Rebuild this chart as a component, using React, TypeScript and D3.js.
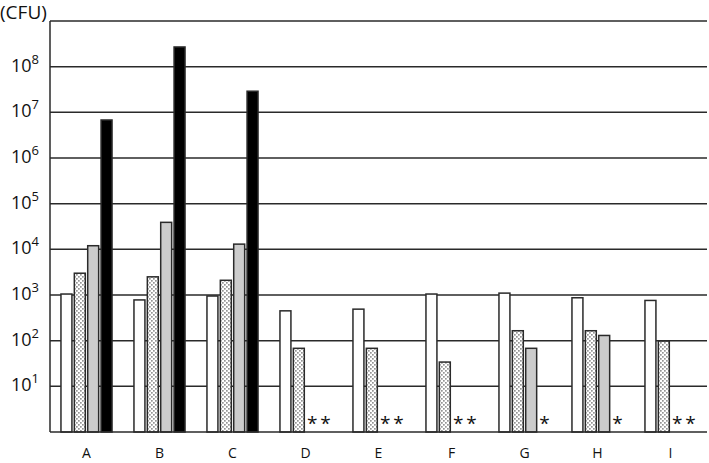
import { scaleBand, scaleLog } from "d3";
import type { FC } from "react";

const categories = ["A", "B", "C", "D", "E", "F", "G", "H", "I"];
const seriesNames = ["white", "dotted", "gray", "black"];
// null = not detected (drawn as *)
const whiteValues = [1050, 780, 950, 450, 490, 1050, 1100, 870, 760];
const dottedValues = [3000, 2500, 2100, 68, 68, 34, 165, 165, 98];
const grayValues: (number | null)[] = [12000, 39000, 13000, null, null, null, 68, 130, null];
const blackValues: (number | null)[] = [6.8e6, 2.7e8, 2.9e7, null, null, null, null, null, null];
const yTickExponents = [1, 2, 3, 4, 5, 6, 7, 8];

const seriesValues = [whiteValues, dottedValues, grayValues, blackValues];

const width = 709;
const height = 463;
const margin = { top: 21, right: 2, bottom: 31, left: 50 };
const font = "'Open Sans', 'Noto Sans', sans-serif";

const App: FC = () => {
  const yScale = scaleLog()
    .domain([1, 1e9])
    .range([height - margin.bottom, margin.top]);
  const xScale = scaleBand<string>()
    .domain(categories)
    .range([margin.left, width - margin.right])
    .padding(0);
  const innerScale = scaleBand<string>()
    .domain(seriesNames)
    .range([0, xScale.bandwidth()])
    .paddingInner(0.18)
    .paddingOuter(0.82);

  const fills: Record<string, string> = {
    white: "#ffffff",
    dotted: "url(#dots)",
    gray: "#cccccc",
    black: "#000000",
  };
  const baseY = yScale(1);

  return (
    <svg
      width={width}
      height={height}
      style={{ position: "absolute", left: 0, top: 0, background: "#fff" }}
    >
      <defs>
        <pattern id="dots" width={4} height={4} patternUnits="userSpaceOnUse">
          <rect width={4} height={4} fill="#ffffff" />
          <rect x={0} y={0} width={1.7} height={1.7} fill="#959595" />
          <rect x={2} y={2} width={1.7} height={1.7} fill="#959595" />
        </pattern>
      </defs>

      {/* gridlines incl. top line */}
      {[...yTickExponents, 9].map((e) => (
        <line
          key={e}
          x1={margin.left}
          x2={width - margin.right}
          y1={yScale(10 ** e)}
          y2={yScale(10 ** e)}
          stroke="#2a2a2a"
          strokeWidth={1.5}
        />
      ))}

      {/* y tick labels */}
      {yTickExponents.map((e) => (
        <text
          key={e}
          x={39}
          y={yScale(10 ** e) + 5}
          textAnchor="end"
          fontFamily={font}
          fontSize={18}
          fill="#111"
        >
          10
          <tspan fontSize={13} dy={-8}>
            {e}
          </tspan>
        </text>
      ))}
      <text x={0} y={19} fontFamily={font} fontSize={19} fill="#111">
        (CFU)
      </text>

      {/* bars */}
      {categories.map((c, i) => (
        <g key={c} transform={`translate(${xScale(c)},0)`}>
          {seriesNames.map((s, k) => {
            const v = seriesValues[k][i];
            const x = innerScale(s) || 0;
            const w = innerScale.bandwidth();
            if (v == null) {
              return (
                <text
                  key={s}
                  x={x + w / 2}
                  y={baseY - 2}
                  textAnchor="middle"
                  fontFamily={font}
                  fontSize={19}
                  fill="#111"
                >
                  *
                </text>
              );
            }
            const y = yScale(v);
            return (
              <rect
                key={s}
                x={x}
                y={y}
                width={w}
                height={baseY - y}
                fill={fills[s]}
                stroke="#2a2a2a"
                strokeWidth={1.5}
              />
            );
          })}
          <text
            x={xScale.bandwidth() / 2}
            y={height - 5}
            textAnchor="middle"
            fontFamily={font}
            fontSize={14}
            fill="#111"
          >
            {c}
          </text>
        </g>
      ))}

      {/* axes */}
      <line
        x1={margin.left}
        x2={margin.left}
        y1={margin.top}
        y2={baseY}
        stroke="#2a2a2a"
        strokeWidth={1.5}
      />
      <line
        x1={margin.left}
        x2={width - margin.right}
        y1={baseY}
        y2={baseY}
        stroke="#2a2a2a"
        strokeWidth={1.5}
      />
    </svg>
  );
};

export default App;
